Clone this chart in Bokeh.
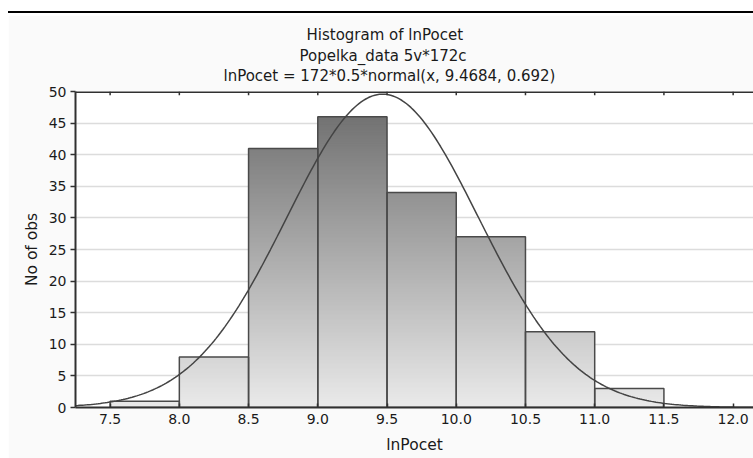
import numpy as np
from bokeh.plotting import figure
from bokeh.layouts import column
from bokeh.models import (Range1d, FixedTicker, Title, Div, Span, NumeralTickFormatter)
from bokeh.embed import file_html
from bokeh.resources import INLINE

# ---- data ----
bin_left = [7.5, 8.0, 8.5, 9.0, 9.5, 10.0, 10.5, 11.0]
bin_right = [8.0, 8.5, 9.0, 9.5, 10.0, 10.5, 11.0, 11.5]
counts = [1, 8, 41, 46, 34, 27, 12, 3]
x_ticks = [7.5, 8.0, 8.5, 9.0, 9.5, 10.0, 10.5, 11.0, 11.5, 12.0]
y_ticks = [0, 5, 10, 15, 20, 25, 30, 35, 40, 45, 50]
# parameters of the fitted normal curve as stated in the chart's title
n_obs = 172
bin_width = 0.5
mu = 9.4684
sigma = 0.692
title_lines = ["Histogram of lnPocet",
               "Popelka_data 5v*172c",
               "lnPocet = 172*0.5*normal(x, 9.4684, 0.692)"]
title_offsets = [231, 224, 148]
title_standoffs = [15, -14, 14]

FONT = "DejaVu Sans"
TXT = "#1a1a1a"
AX = "#303030"
Y_MAX = 50

p = figure(width=745, height=443, x_range=Range1d(7.25, 12.147), y_range=Range1d(0, Y_MAX),
           output_backend="svg", toolbar_location=None,
           min_border_left=67, min_border_right=0, min_border_top=76, min_border_bottom=51,
           background_fill_color="white", border_fill_color="#fafafa",
           outline_line_color=None,
           x_axis_label="lnPocet", y_axis_label="No of obs",
           margin=(2, 0, 0, 8))

# gradient bars: nested quads from the baseline, darkest (tallest) first
step = 0.25
sl, sr, st, sc = [], [], [], []
for l, r, c in zip(bin_left, bin_right, counts):
    n = int(round(c / step))
    for k in range(n):
        t = (k + 1) * step
        mid = t - step / 2
        g = int(round(234 - 130 * mid / 50))
        sl.append(l); sr.append(r); st.append(t); sc.append("#%02x%02x%02x" % (g, g, g))
order = np.argsort(st)[::-1]
p.quad(left=[sl[i] for i in order], right=[sr[i] for i in order], bottom=0,
       top=[st[i] for i in order], fill_color=[sc[i] for i in order], line_color=None)
p.quad(left=bin_left, right=bin_right, bottom=0, top=counts, fill_color=None,
       line_color="#4a4a4a", line_width=1.5)

# normal curve
xs = np.linspace(7.25, 12.147, 300)
ys = n_obs * bin_width * np.exp(-0.5 * ((xs - mu) / sigma) ** 2) / (sigma * np.sqrt(2 * np.pi))
p.line(xs, ys, line_color="#444444", line_width=1.5)

# top border with small inward ticks
p.add_layout(Span(location=Y_MAX, dimension="width", line_color=AX, line_width=3))
p.segment(x0=x_ticks, x1=x_ticks, y0=Y_MAX, y1=Y_MAX - 0.6, line_color=AX, line_width=1.5)

# grid
p.xgrid.grid_line_color = None
p.ygrid.ticker = FixedTicker(ticks=y_ticks)
p.ygrid.grid_line_color = "#dcdcdc"
p.ygrid.grid_line_width = 1.5

# axes
xa = p.xaxis[0]
xa.ticker = FixedTicker(ticks=x_ticks)
xa.formatter = NumeralTickFormatter(format="0.0")
xa.major_tick_in = 4
xa.major_tick_out = 0
xa.major_label_standoff = 6
xa.axis_label_standoff = 9

ya = p.yaxis[0]
ya.ticker = FixedTicker(ticks=y_ticks)
ya.major_tick_in = 0
ya.major_tick_out = 5
ya.major_label_standoff = 4
ya.axis_label_standoff = 5

for ax in [xa, ya]:
    ax.minor_tick_line_color = None
    ax.axis_line_color = AX
    ax.axis_line_width = 2
    ax.major_tick_line_color = AX
    ax.major_tick_line_width = 1.5
    ax.axis_label_text_font = FONT
    ax.axis_label_text_font_size = "15.5px"
    ax.axis_label_text_font_style = "normal"
    ax.axis_label_text_color = TXT
    ax.major_label_text_font = FONT
    ax.major_label_text_font_size = "14px"
    ax.major_label_text_color = TXT

for txt, off, so in reversed(list(zip(title_lines, title_offsets, title_standoffs))):
    p.add_layout(Title(text=txt, align="left", offset=off, text_font=FONT,
                       text_font_size="15px", text_font_style="normal",
                       text_color=TXT, standoff=so), "above")

rule = Div(width=745, height=2, margin=(11, 0, 0, 8),
           styles={"background-color": "black"})
page = column(rule, p, spacing=0)

open("out.html", "w").write(file_html(page, INLINE))
